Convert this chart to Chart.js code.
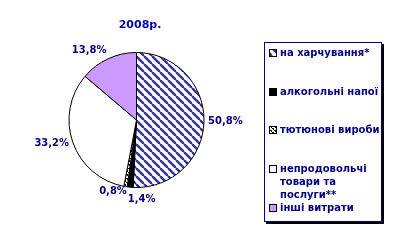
<!DOCTYPE html>
<html>
<head>
<meta charset="utf-8">
<script src="https://cdn.jsdelivr.net/npm/chart.js@4/dist/chart.umd.min.js"></script>
<style>
  html, body { margin: 0; padding: 0; background: #fff; overflow: hidden; }
  canvas { display: block; }
</style>
</head>
<body>
<canvas id="pie" width="395" height="249"></canvas>
<script>
const chartTitle = '2008р.';
const categories = ['на харчування*', 'алкогольні напої', 'тютюнові вироби', 'непродовольчі товари та послуги**', 'інші витрати'];
const legendLines = [['на харчування*'], ['алкогольні напої'], ['тютюнові вироби'], ['непродовольчі', 'товари та', 'послуги**'], ['інші витрати']];
const shares = [50.8, 1.4, 0.8, 33.2, 13.8];

const NAVY = '#000080';
const FONT = 'bold 10px "DejaVu Sans", Verdana, sans-serif';

function makeTile(size, draw) {
  const c = document.createElement('canvas');
  c.width = size; c.height = size;
  const g = c.getContext('2d');
  draw(g, size);
  return c;
}

// navy "\" stripes on white
const hatchTile = makeTile(8, (g, s) => {
  g.fillStyle = '#fff';
  g.fillRect(0, 0, s, s);
  g.strokeStyle = '#333399';
  g.lineWidth = 2.4;
  for (let o = -s; o <= s; o += s) {
    g.beginPath();
    g.moveTo(o, 0);
    g.lineTo(o + s, s);
    g.stroke();
  }
});

// white with small black dashes
const dotTile = makeTile(4, (g, s) => {
  g.fillStyle = '#fff';
  g.fillRect(0, 0, s, s);
  g.fillStyle = '#000';
  g.fillRect(0, 0, 2, 1);
  g.fillRect(2, 2, 2, 1);
  g.fillRect(1, 1, 1, 1);
  g.fillRect(3, 3, 1, 1);
});

const ctx = document.getElementById('pie').getContext('2d');
const sliceColors = [
  ctx.createPattern(hatchTile, 'repeat'),
  '#000000',
  ctx.createPattern(dotTile, 'repeat'),
  '#ffffff',
  '#cc99ff'
];

const decorPlugin = {
  id: 'decor',
  afterDatasetsDraw(chart, args, opts) {
    const c = chart.ctx;
    const meta = chart.getDatasetMeta(0);
    c.save();

    // title
    c.font = 'bold 11px "DejaVu Sans", Verdana, sans-serif';
    c.fillStyle = '#0000b0';
    c.textAlign = 'center';
    c.textBaseline = 'middle';
    c.fillText(chartTitle, 140, 25);

    // value labels
    c.font = FONT;
    c.fillStyle = NAVY;
    meta.data.forEach((arc, i) => {
      const mid = (arc.startAngle + arc.endAngle) / 2;
      const r = arc.outerRadius + 4;
      const dx = Math.cos(mid), dy = Math.sin(mid);
      let x = arc.x + dx * r, y = arc.y + dy * r;
      let align = dx > 0.2 ? 'left' : dx < -0.2 ? 'right' : 'center';
      let base = dy > 0.5 ? 'top' : dy < -0.5 ? 'bottom' : 'middle';
      const o = opts.overrides[i];
      if (o) { align = o.align; base = o.base; x += o.dx; y += o.dy; }
      c.textAlign = align;
      c.textBaseline = base;
      c.fillText(shares[i].toFixed(1).replace('.', ',') + '%', x, y);
    });

    // legend box
    const b = opts.box;
    c.fillStyle = '#000';
    c.fillRect(b.x + 2, b.y + 2, b.w, b.h);
    c.fillStyle = '#fff';
    c.fillRect(b.x, b.y, b.w, b.h);
    c.strokeStyle = NAVY;
    c.lineWidth = 1;
    c.strokeRect(b.x + 0.5, b.y + 0.5, b.w - 1, b.h - 1);

    c.textAlign = 'left';
    c.textBaseline = 'middle';
    legendLines.forEach((lines, i) => {
      const y0 = opts.rowY[i];
      c.fillStyle = sliceColors[i];
      c.fillRect(269.5, y0 - 3.5, 7, 7);
      c.strokeStyle = '#000';
      c.strokeRect(269.5, y0 - 3.5, 7, 7);
      c.fillStyle = NAVY;
      lines.forEach((t, k) => c.fillText(t, 280, y0 + k * 13));
    });
    c.restore();
  }
};

new Chart(ctx, {
  type: 'pie',
  data: {
    labels: categories,
    datasets: [{
      data: shares,
      backgroundColor: sliceColors,
      borderColor: '#000',
      borderWidth: 1
    }]
  },
  options: {
    responsive: false,
    devicePixelRatio: 1,
    animation: false,
    events: [],
    layout: { padding: { left: 68, right: 190, top: 52, bottom: 61 } },
    plugins: {
      legend: { display: false },
      title: { display: false },
      tooltip: { enabled: false },
      decor: {
        box: { x: 264, y: 42, w: 118, h: 180 },
        rowY: [53, 92, 130, 169, 208],
        overrides: {
          1: { align: 'left', base: 'top', dx: -2, dy: 3 },
          2: { align: 'right', base: 'middle', dx: 2, dy: 1 }
        }
      }
    }
  },
  plugins: [decorPlugin]
});
</script>
</body>
</html>
